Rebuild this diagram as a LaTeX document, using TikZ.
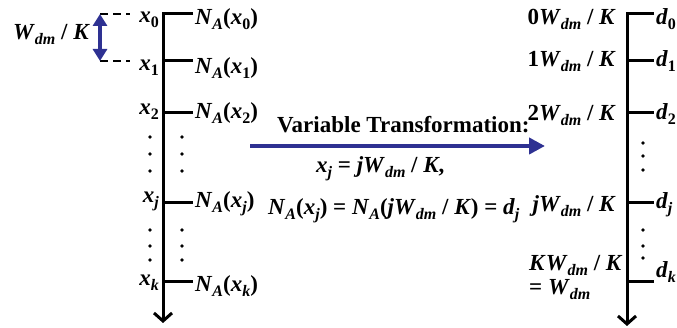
\documentclass[tikz,border=0pt]{standalone}
\usepackage{fontspec}
\setmainfont{Liberation Serif}
\usetikzlibrary{arrows.meta}
\definecolor{navy}{RGB}{46,49,146}
\newcommand{\sbi}[1]{\raisebox{-5pt}{\fontsize{16}{16}\selectfont\itshape #1}}
\newcommand{\sbu}[1]{\raisebox{-5pt}{\fontsize{16}{16}\selectfont\upshape #1}}
\newcommand{\Wdm}{\textit{W}\sbi{dm}}
\newcommand{\NA}{\textit{N}\sbi{A}}
\begin{document}
\begin{tikzpicture}[x=1pt,y=-1pt,
  font=\fontsize{23}{25}\selectfont\bfseries,
  every node/.style={inner sep=0pt},
  axis/.style={line width=3pt, line join=miter, -{Straight Barb[length=8pt,width=18pt]}},
  tickline/.style={line width=3pt},
  dashln/.style={line width=2pt, dash pattern=on 8pt off 5pt},
  bluearrow/.style={navy, line width=4pt, -{Triangle[length=16pt,width=16pt]}},
  bluedouble/.style={navy, line width=3.5pt, {Triangle[length=12pt,width=14pt]}-{Triangle[length=12pt,width=14pt]}},
  dotmark/.style={circle, fill=black, minimum size=3.6pt, inner sep=0pt},
  lbl/.style={anchor=base west},
  rlbl/.style={anchor=base east}]
\useasboundingbox (0,0) rectangle (677,328);

% ---------- left axis ----------
\coordinate (Lt0) at (163,14);  \coordinate (Le0) at (193,14);
\coordinate (Lt1) at (163,61);  \coordinate (Le1) at (193,61);
\coordinate (Lt2) at (163,113); \coordinate (Le2) at (193,113);
\coordinate (Ltj) at (163,203); \coordinate (Lej) at (193,203);
\coordinate (Ltk) at (163,282); \coordinate (Lek) at (193,282);
\coordinate (Lbot) at (163,323);
\draw[axis] (Le0) -- (Lt0) -- (Lbot);
\draw[tickline] (Lt1) -- (Le1);
\draw[tickline] (Lt2) -- (Le2);
\draw[tickline] (Ltj) -- (Lej);
\draw[tickline] (Ltk) -- (Lek);

\node[rlbl] (x0) at (159,23)  {\textit{x}\sbu{0}};
\node[rlbl] (x1) at (159,71)  {\textit{x}\sbu{1}};
\node[rlbl] (x2) at (159,115) {\textit{x}\sbu{2}};
\node[rlbl] (xj) at (159,203) {\textit{x}\sbi{j}};
\node[rlbl] (xk) at (159,286) {\textit{x}\sbi{k}};

\node[lbl] (n0) at (195,25)  {\NA(\textit{x}\sbu{0})};
\node[lbl] (n1) at (195,74)  {\NA(\textit{x}\sbu{1})};
\node[lbl] (n2) at (195,119) {\NA(\textit{x}\sbu{2})};
\node[lbl] (nj) at (195,208) {\NA(\textit{x}\sbi{j})};
\node[lbl] (nk) at (195,292) {\NA(\textit{x}\sbi{k})};

\foreach \yy [count=\i] in {137,154,171,230,246,260} {
  \node[dotmark] (ldl\i) at (150,\yy) {};
  \node[dotmark] (ldr\i) at (182,\yy) {};
}

% ---------- spacing marker ----------
\coordinate (D0a) at (100,14); \coordinate (D0b) at (130,14);
\coordinate (D1a) at (100,61); \coordinate (D1b) at (130,61);
\draw[dashln] (D0a) -- (D0b);
\draw[dashln] (D1a) -- (D1b);
\draw[bluedouble] (D0a) -- (D1a);
\node[lbl] (wk) at (13,40) {\Wdm{} / \textit{K}};

% ---------- transformation ----------
\coordinate (B1) at (250,146); \coordinate (B2) at (545,146);
\draw[bluearrow] (B1) -- (B2);
\node[lbl] (vt) at (277,133) {Variable Transformation:};
\node[lbl] (eq1) at (316,173) {\textit{x}\sbi{j} = \textit{j}\Wdm{} / \textit{K},};
\node[lbl] (eq2) at (268,215) {\NA(\textit{x}\sbi{j}) = \NA(\textit{j}\Wdm{} / \textit{K}) = \textit{d}\sbi{j}};

% ---------- right axis ----------
\coordinate (Rt0) at (627,14);  \coordinate (Re0) at (654,14);
\coordinate (Rt1) at (627,61);  \coordinate (Re1) at (654,61);
\coordinate (Rt2) at (627,113); \coordinate (Re2) at (654,113);
\coordinate (Rtj) at (627,203); \coordinate (Rej) at (654,203);
\coordinate (Rtk) at (627,282); \coordinate (Rek) at (654,282);
\coordinate (Rbot) at (627,326);
\draw[axis] (Re0) -- (Rt0) -- (Rbot);
\draw[tickline] (Rt1) -- (Re1);
\draw[tickline] (Rt2) -- (Re2);
\draw[tickline] (Rtj) -- (Rej);
\draw[tickline] (Rtk) -- (Rek);

\node[rlbl] (w0) at (616,25)  {0\Wdm{} / \textit{K}};
\node[rlbl] (w1) at (616,67)  {1\Wdm{} / \textit{K}};
\node[rlbl] (w2) at (616,121) {2\Wdm{} / \textit{K}};
\node[rlbl] (wj) at (616,212) {\textit{j}\Wdm{} / \textit{K}};
\node[lbl]  (wk1) at (529,271) {\textit{K}\Wdm{} / \textit{K}};
\node[lbl]  (wk2) at (529,295) {= \Wdm};

\node[lbl] (d0) at (656,25)  {\textit{d}\sbu{0}};
\node[lbl] (d1) at (656,67)  {\textit{d}\sbu{1}};
\node[lbl] (d2) at (656,120) {\textit{d}\sbu{2}};
\node[lbl] (dj) at (656,209) {\textit{d}\sbi{j}};
\node[lbl] (dk) at (656,278) {\textit{d}\sbi{k}};

\foreach \yy [count=\i] in {143,156,170,230,246,258} {
  \node[dotmark] (rd\i) at (643,\yy) {};
}
\end{tikzpicture}
\end{document}
